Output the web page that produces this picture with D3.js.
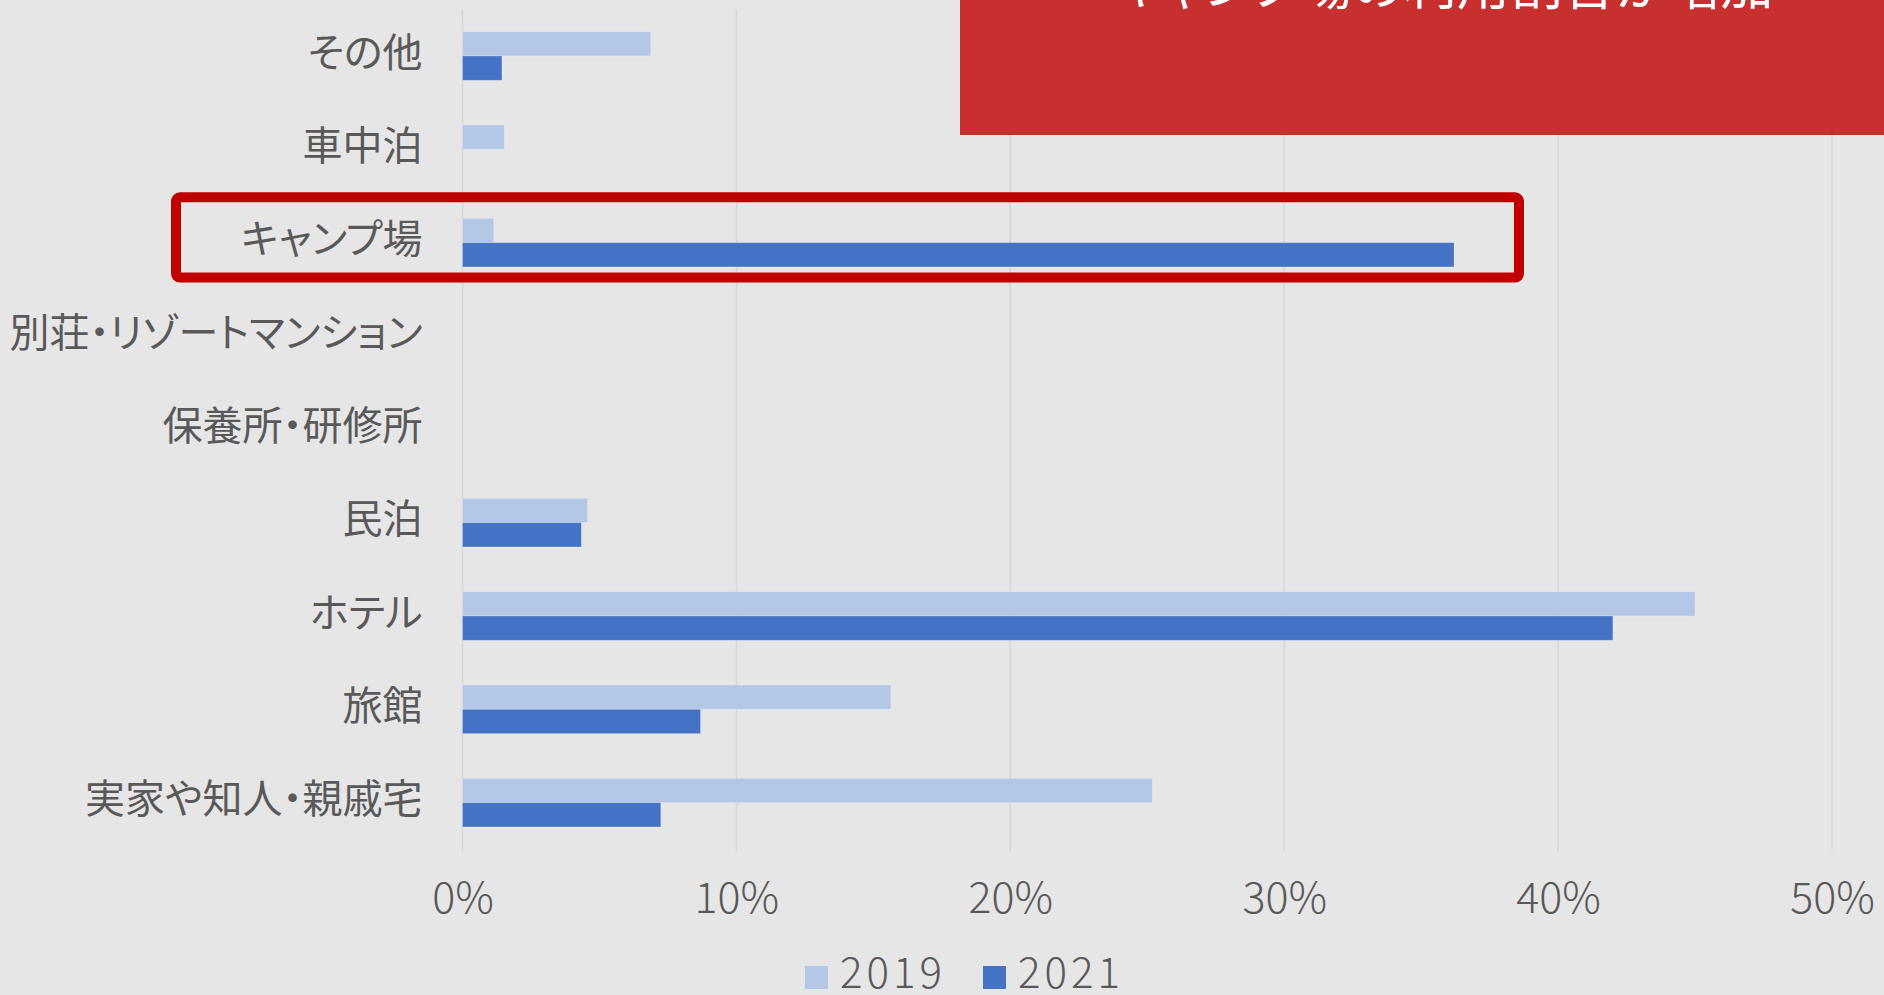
<!DOCTYPE html>
<html>
<head>
<meta charset="utf-8">
<script src="https://cdn.jsdelivr.net/npm/d3@7"></script>
<style>
  html, body { margin: 0; padding: 0; background: #E6E6E6; overflow: hidden; }
  svg { display: block; }
  text { font-family: "Noto Sans CJK JP", "Noto Sans", sans-serif; }
</style>
</head>
<body>
<svg id="chart" width="1884" height="995"></svg>
<script>
// Categories, top to bottom
const categories = ["その他", "車中泊", "キャンプ場", "別荘・リゾートマンション", "保養所・研修所", "民泊", "ホテル", "旅館", "実家や知人・親戚宅"];
const seriesNames = ["2019", "2021"];
const values2019 = [0.0687, 0.0153, 0.0114, 0, 0, 0.0457, 0.450, 0.1564, 0.2519];
const values2021 = [0.0144, 0, 0.362, 0, 0, 0.0434, 0.420, 0.0869, 0.0724];
const tickValues = [0, 0.1, 0.2, 0.3, 0.4, 0.5];
const titleText = "キャンプ場の利用割合が増加";
const highlightCategory = "キャンプ場";

const colors = { "2019": "#B4C7E7", "2021": "#4472C4" };
const textColor = "#595959";

const svg = d3.select("#chart");
const W = 1884, H = 995;
svg.append("rect").attr("width", W).attr("height", H).attr("fill", "#E6E6E6");

const plot = { left: 462.5, right: 1832, top: 9.3, bottom: 849.3 };

const x = d3.scaleLinear().domain([0, 0.5]).range([plot.left, plot.right]);
const y = d3.scaleBand().domain(categories).range([plot.top, plot.bottom])
  .paddingInner(0.479).paddingOuter(0.2395);
const ySub = d3.scaleBand().domain(seriesNames).range([0, y.bandwidth()]).padding(0);

// gridlines
svg.append("g").selectAll("line").data(tickValues).join("line")
  .attr("x1", d => x(d)).attr("x2", d => x(d))
  .attr("y1", plot.top).attr("y2", plot.bottom + 2)
  .attr("stroke", "#D6D6D6").attr("stroke-width", 1.5);

// x axis labels
const xAxis = d3.axisBottom(x).tickValues(tickValues).tickFormat(d3.format(".0%")).tickSize(0).tickPadding(0);
const gx = svg.append("g").attr("transform", `translate(0, ${plot.bottom})`).call(xAxis);
gx.select(".domain").remove();
gx.selectAll("text")
  .attr("dy", null).attr("y", 64)
  .attr("fill", textColor)
  .style("font-size", "43px").style("font-weight", 300)
  .style("font-family", "'Noto Sans CJK JP', 'Noto Sans', sans-serif");

// y axis labels
const yAxis = d3.axisLeft(y).tickSize(0).tickPadding(40);
const gy = svg.append("g").attr("transform", `translate(${plot.left}, 0)`).call(yAxis);
gy.select(".domain").remove();
gy.selectAll("text")
  .attr("dy", "0.34em").attr("y", -3)
  .attr("fill", textColor)
  .style("font-size", "40px")
  .style("font-feature-settings", "'palt'")
  .style("font-family", "'Noto Sans CJK JP', sans-serif");

// bars
const rows = categories.map((c, i) => ({ cat: c, vals: [
  { s: "2019", v: values2019[i] }, { s: "2021", v: values2021[i] }
]}));
const gBars = svg.append("g");
rows.forEach(r => {
  gBars.selectAll(null).data(r.vals.filter(d => d.v > 0)).join("rect")
    .attr("x", x(0))
    .attr("y", d => y(r.cat) + ySub(d.s))
    .attr("width", d => x(d.v) - x(0))
    .attr("height", ySub.bandwidth())
    .attr("fill", d => colors[d.s])
    .attr("stroke", "rgba(255,255,255,0.25)").attr("stroke-width", 1);
});

// highlight box around キャンプ場
const hy = y(highlightCategory);
svg.append("rect")
  .attr("x", 176).attr("y", hy - 21)
  .attr("width", 1519 - 176).attr("height", 80.2)
  .attr("rx", 4).attr("ry", 4)
  .attr("fill", "none").attr("stroke", "#C00000").attr("stroke-width", 10);

// title box (cut off at the top)
svg.append("rect")
  .attr("x", 960).attr("y", -10).attr("width", 940).attr("height", 145)
  .attr("fill", "rgb(198,38,38)").attr("fill-opacity", 0.95);
svg.append("text")
  .attr("x", 1443).attr("y", 5)
  .attr("text-anchor", "middle")
  .attr("fill", "#FFFFFF")
  .style("font-size", "53px")
  .style("font-feature-settings", "'palt'")
  .text(titleText);

// legend
const legend = svg.append("g");
const legendItems = [{ s: "2019", x: 805 }, { s: "2021", x: 983 }];
legendItems.forEach(it => {
  legend.append("rect").attr("x", it.x).attr("y", 966).attr("width", 23).attr("height", 23)
    .attr("fill", colors[it.s]);
  legend.append("text").attr("x", it.x + 35).attr("y", 988)
    .attr("fill", textColor)
    .style("font-size", "42px").style("font-weight", 300)
    .style("letter-spacing", "4px")
    .text(it.s);
});
</script>
</body>
</html>
